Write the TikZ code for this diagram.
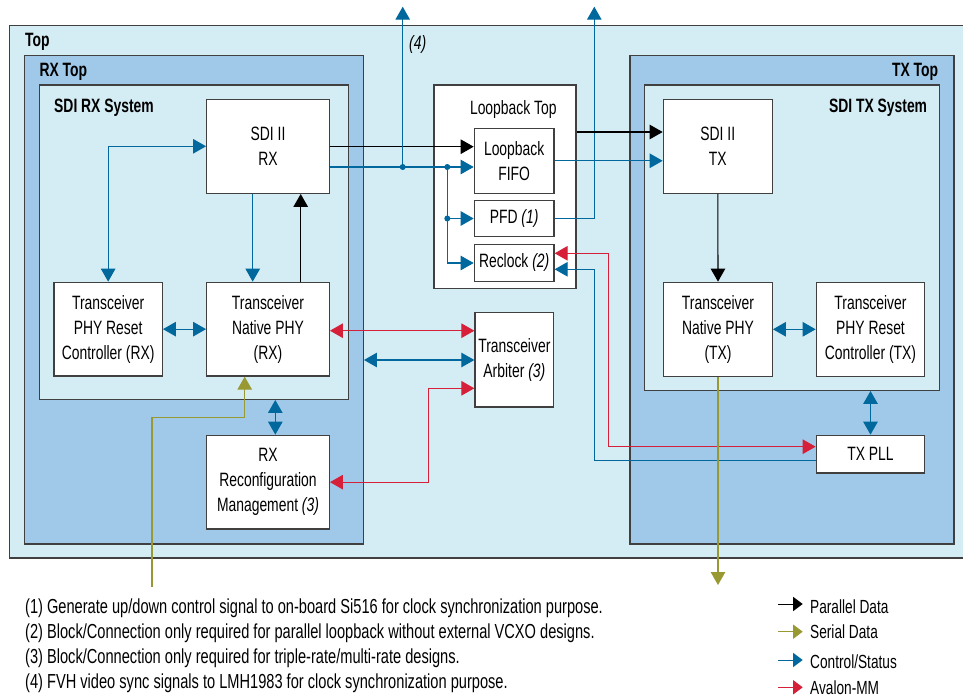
\documentclass[tikz,border=0pt]{standalone}
\usepackage{fontspec}
\setmainfont{Liberation Sans}[FakeStretch=0.72]
\usetikzlibrary{arrows.meta,calc}
\definecolor{topbg}{RGB}{212,236,244}
\definecolor{rxbg}{RGB}{160,201,233}
\definecolor{bordergray}{RGB}{64,64,64}
\definecolor{ctlblue}{RGB}{0,104,156}
\definecolor{mmred}{RGB}{214,31,56}
\definecolor{serolive}{RGB}{153,153,51}
\begin{document}
\begin{tikzpicture}[x=1pt,y=-1pt,
  every node/.style={font=\fontsize{19.3}{25}\selectfont, text=black},
  cont/.style={draw=bordergray, line width=1.3pt, inner sep=0pt},
  box/.style={draw=bordergray, fill=white, line width=1.3pt, inner sep=0pt, align=center},
  ttl/.style={font=\fontsize{19.3}{25}\selectfont\bfseries, inner sep=0pt},
  note/.style={font=\fontsize{20.3}{25}\selectfont, inner sep=0pt},
  lgtext/.style={font=\fontsize{19}{25}\selectfont, inner sep=0pt},
  conn/.style={line width=1.1pt},
  pd/.style={conn, draw=black},
  ctl/.style={conn, draw=ctlblue},
  mm/.style={conn, draw=mmred},
  ser/.style={conn, draw=serolive},
  ahead/.style={-{Triangle[length=13pt,width=14.5pt]}},
  twoway/.style={{Triangle[length=13pt,width=14.5pt]}-{Triangle[length=13pt,width=14.5pt]}},
  lghead/.style={line width=1pt, -{Triangle[length=9.5pt,width=14pt]}},
  dot/.style={circle, fill=ctlblue, inner sep=0pt, minimum size=6pt}
]
\useasboundingbox (0,0) rectangle (963,698);

% containers
\node[cont, fill=topbg, minimum width=956.5pt, minimum height=532.5pt] (top) at (487.75,291.75) {};
\node[cont, fill=rxbg, minimum width=339pt, minimum height=488.3pt] (rxtop) at (193.8,299.85) {};
\node[cont, fill=topbg, minimum width=309.4pt, minimum height=314.3pt] (rxsys) at (194,242.15) {};
\node[cont, fill=rxbg, minimum width=324pt, minimum height=488.3pt] (txtop) at (792,299.85) {};
\node[cont, fill=topbg, minimum width=294.6pt, minimum height=305.3pt] (txsys) at (792,237.65) {};
\node[cont, fill=white, minimum width=142pt, minimum height=203.3pt] (lbtop) at (505,186.65) {};

% titles
\node[ttl, anchor=base west] (toplbl) at (25,46.7) {Top};
\node[ttl, anchor=base west] (rxtoplbl) at (39.3,76.7) {RX Top};
\node[ttl, anchor=base west] (rxsyslbl) at (54,112.3) {SDI RX System};
\node[ttl, anchor=base east] (txtoplbl) at (938.3,76.7) {TX Top};
\node[ttl, anchor=base east] (txsyslbl) at (927.3,112.3) {SDI TX System};
\node[inner sep=0pt, anchor=base] (lbtoplbl) at (513.3,115) {Loopback Top};

% blocks
\node[box, minimum width=122.6pt, minimum height=94pt] (sdirx) at (268,146.3) {SDI II\\RX};
\node[box, minimum width=108.3pt, minimum height=93.7pt] (rstrx) at (108.15,329.15) {Transceiver\\PHY Reset\\Controller (RX)};
\node[box, minimum width=122.6pt, minimum height=93.7pt] (phyrx) at (268,329.15) {Transceiver\\Native PHY\\(RX)};
\node[box, minimum width=122.6pt, minimum height=93.7pt] (reconf) at (268,482.15) {RX\\Reconfiguration\\Management \textit{(3)}};
\node[box, minimum width=79.7pt, minimum height=65pt] (fifo) at (514.15,160.8) {Loopback\\FIFO};
\node[box, minimum width=79.7pt, minimum height=36pt] (pfd) at (514.15,218.7) {PFD \textit{(1)}};
\node[box, minimum width=79.7pt, minimum height=36.6pt] (reclk) at (514.15,263) {Reclock \textit{(2)}};
\node[box, minimum width=78.7pt, minimum height=94.3pt] (arb) at (514.35,359.85) {Transceiver\\Arbiter \textit{(3)}};
\node[box, minimum width=109pt, minimum height=94pt] (sditx) at (717.8,146.3) {SDI II\\TX};
\node[box, minimum width=108.6pt, minimum height=94pt] (phytx) at (718,329.3) {Transceiver\\Native PHY\\(TX)};
\node[box, minimum width=108.4pt, minimum height=94pt] (rsttx) at (870.5,329.3) {Transceiver\\PHY Reset\\Controller (TX)};
\node[box, minimum width=108.4pt, minimum height=37.7pt] (txpll) at (870.5,454.15) {TX PLL};

\node[inner sep=0pt, anchor=base west] (n4) at (409,49.5) {\textit{(4)}};

% helper coordinates
\coordinate (ypar) at (0,146.7);
\coordinate (yctl) at (0,167);
\coordinate (lbpar) at (0,132);
\coordinate (j1) at (402.7,167);
\coordinate (j2) at (447.3,167);
\coordinate (j3) at (447.3,218.5);
\coordinate (out4) at (402.7,6.7);
\coordinate (out1) at (594.3,6.7);
\coordinate (xa) at (252.7,0);
\coordinate (xb) at (300.7,0);
\coordinate (xr) at (275.3,0);
\coordinate (serin) at (152,586.7);
\coordinate (serbend) at (244.7,417.3);
\coordinate (serout) at (0,585);
\coordinate (redx) at (608.7,253.3);
\coordinate (redy) at (0,446.7);
\coordinate (blux) at (594.3,0);
\coordinate (bluy1) at (0,269.3);
\coordinate (bluy2) at (0,460.3);
\coordinate (arbr) at (0,330.7);
\coordinate (arbb) at (0,360);
\coordinate (arbm) at (0,388.3);
\coordinate (mmx) at (428.3,0);

% connectors
\draw[ctl, twoway] (rstrx.north) |- (sdirx.west);
\draw[ctl, ahead] (sdirx.south -| xa) -- (phyrx.north -| xa);
\draw[pd, ahead] (phyrx.north -| xb) -- (sdirx.south -| xb);
\draw[ctl, twoway] (rstrx.east) -- (phyrx.west);
\draw[ctl, twoway] (rxsys.south -| xr) -- (reconf.north -| xr);
\draw[ser, ahead] (serin) |- (serbend) -- (phyrx.south -| serbend);

\draw[pd, ahead] (sdirx.east |- ypar) -- (fifo.west |- ypar);
\draw[ctl, ahead] (sdirx.east |- yctl) -- (fifo.west |- yctl);
\draw[ctl, ahead] (j1) -- (out4);
\draw[ctl, ahead] (j2) |- (reclk.west);
\draw[ctl, ahead] (j3) -- (pfd.west |- j3);
\draw[ctl, ahead] (pfd.east) -| (out1);

\draw[mm, twoway] (phyrx.east |- arbr) -- (arb.west |- arbr);
\draw[ctl, twoway] (rxtop.east |- arbb) -- (arb.west |- arbb);
\draw[mm, twoway] (reconf.east) -| (mmx |- arbm) -- (arb.west |- arbm);

\draw[pd, ahead] (lbtop.east |- lbpar) -- (sditx.west |- lbpar);
\draw[ctl, ahead] (fifo.east) -- (sditx.west |- fifo.east);
\draw[pd, ahead] (sditx.south) -- (phytx.north);
\draw[ctl, twoway] (phytx.east) -- (rsttx.west);
\draw[ctl, twoway] (txpll.north) -- (txsys.south -| txpll.north);
\draw[mm, twoway] (reclk.east |- redx) -- (redx) |- (txpll.west |- redy);
\draw[ctl, ahead] (txpll.west |- bluy2) -| (blux |- bluy1) -- (reclk.east |- bluy1);
\draw[ser, ahead] (phytx.south) -- (phytx.south |- serout);

\node[dot] (d1) at (j1) {};
\node[dot] (d2) at (j2) {};
\node[dot] (d3) at (j3) {};

% notes
\node[note, anchor=west] (note1) at (25,608.3) {(1) Generate up/down control signal to on-board Si516 for clock synchronization purpose.};
\node[note, anchor=west] (note2) at (25,633) {(2) Block/Connection only required for parallel loopback without external VCXO designs.};
\node[note, anchor=west] (note3) at (25,658) {(3) Block/Connection only required for triple-rate/multi-rate designs.};
\node[note, anchor=west] (note4) at (25,683) {(4) FVH video sync signals to LMH1983 for clock synchronization purpose.};

% legend
\node[lgtext, anchor=base west] (lg1) at (810,613) {Parallel Data};
\node[lgtext, anchor=base west] (lg2) at (810,638) {Serial Data};
\node[lgtext, anchor=base west] (lg3) at (810,668) {Control/Status};
\node[lgtext, anchor=base west] (lg4) at (810,694) {Avalon-MM};
\coordinate (lgs1) at (778,604);
\coordinate (lgs2) at (778,631.7);
\coordinate (lgs3) at (778,660);
\coordinate (lgs4) at (778,687.3);
\draw[lghead, draw=black] (lgs1) -- ([xshift=-7.3pt]lg1.west |- lgs1);
\draw[lghead, draw=serolive] (lgs2) -- ([xshift=-7.3pt]lg2.west |- lgs2);
\draw[lghead, draw=ctlblue] (lgs3) -- ([xshift=-7.3pt]lg3.west |- lgs3);
\draw[lghead, draw=mmred] (lgs4) -- ([xshift=-7.3pt]lg4.west |- lgs4);
\end{tikzpicture}
\end{document}
